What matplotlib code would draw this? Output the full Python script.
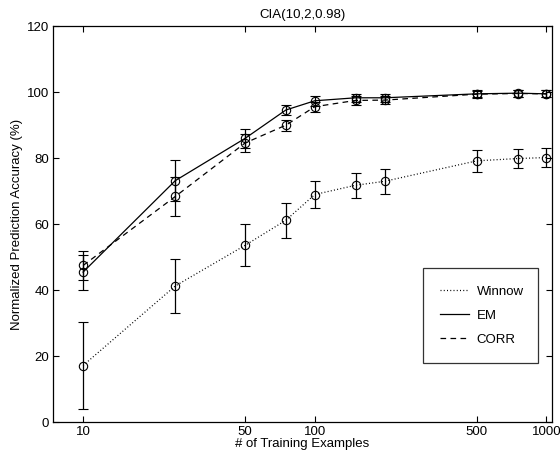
import matplotlib
matplotlib.use('Agg')
import matplotlib.pyplot as plt
from matplotlib.ticker import FixedLocator, NullLocator, FixedFormatter

plt.rcParams['font.family'] = ['Liberation Sans', 'DejaVu Sans']

# data
train_sizes = [10, 25, 50, 75, 100, 150, 200, 500, 750, 1000]
winnow_mean = [17.2, 41.3, 53.6, 61.2, 69.0, 71.8, 73.0, 79.2, 79.9, 80.2]
winnow_err = [13.2, 8.3, 6.4, 5.3, 4.2, 3.8, 3.8, 3.3, 3.0, 3.0]
em_mean = [45.5, 73.2, 86.0, 94.6, 97.4, 98.3, 98.3, 99.5, 99.7, 99.5]
em_err = [5.3, 6.3, 2.8, 1.4, 1.5, 1.3, 1.3, 1.1, 1.1, 1.1]
corr_mean = [47.5, 68.4, 84.6, 90.0, 95.6, 97.5, 97.6, 99.4, 99.6, 99.5]
corr_err = [4.4, 5.8, 2.6, 1.7, 1.5, 1.3, 1.3, 1.1, 1.1, 1.1]

x_ticks = [10, 50, 100, 500, 1000]
x_ticklabels = ['10', '50', '100', '500', '1000']
y_ticks = [0, 20, 40, 60, 80, 100, 120]

DOT = (0, (0.8, 1.8))
DASH = (0, (4.5, 3.5))

fig = plt.figure(figsize=(5.6, 4.59), dpi=100)
ax = fig.add_axes([0.095, 0.080, 0.890, 0.863])

common = dict(color='black', marker='o', markersize=6, markerfacecolor='none',
              markeredgewidth=0.8, linewidth=0.9, elinewidth=0.9,
              capsize=3.3, capthick=0.9, ecolor='black')

ax.errorbar(train_sizes, winnow_mean, yerr=winnow_err, linestyle=DOT,
            label='Winnow', **common)
ax.errorbar(train_sizes, em_mean, yerr=em_err, linestyle='-',
            label='EM', **common)
ax.errorbar(train_sizes, corr_mean, yerr=corr_err, linestyle=DASH,
            label='CORR', **common)

ax.set_xscale('log')
ax.set_xlim(7.43, 1052)
ax.set_ylim(0, 120)
ax.xaxis.set_major_locator(FixedLocator(x_ticks))
ax.xaxis.set_major_formatter(FixedFormatter(x_ticklabels))
ax.xaxis.set_minor_locator(NullLocator())
ax.set_yticks(y_ticks)
ax.tick_params(direction='in', top=True, right=True, labelsize=9.5,
               length=4, width=0.8, pad=3)
for s in ax.spines.values():
    s.set_linewidth(0.9)

ax.set_xlabel('# of Training Examples', fontsize=9.5, labelpad=0)
ax.set_ylabel('Normalized Prediction Accuracy (%)', fontsize=9.5, labelpad=3)
ax.set_title('CIA(10,2,0.98)', fontsize=9.5, pad=6)

# legend handles without markers / error bars
h1, = ax.plot([], [], color='black', linestyle=DOT, linewidth=0.9)
h2, = ax.plot([], [], color='black', linestyle='-', linewidth=0.9)
h3, = ax.plot([], [], color='black', linestyle=DASH, linewidth=0.9)
leg = ax.legend([h1, h2, h3], ['Winnow', 'EM', 'CORR'],
                loc='lower left', bbox_to_anchor=(0.741, 0.149, 0.231, 0.242),
                mode='expand', fontsize=9.5, frameon=True, fancybox=False,
                handlelength=2.2, handletextpad=0.6, labelspacing=0.9,
                borderpad=1.3, borderaxespad=0)
leg.get_frame().set_edgecolor('black')
leg.get_frame().set_linewidth(0.9)

fig.savefig('out.png', dpi=100)
